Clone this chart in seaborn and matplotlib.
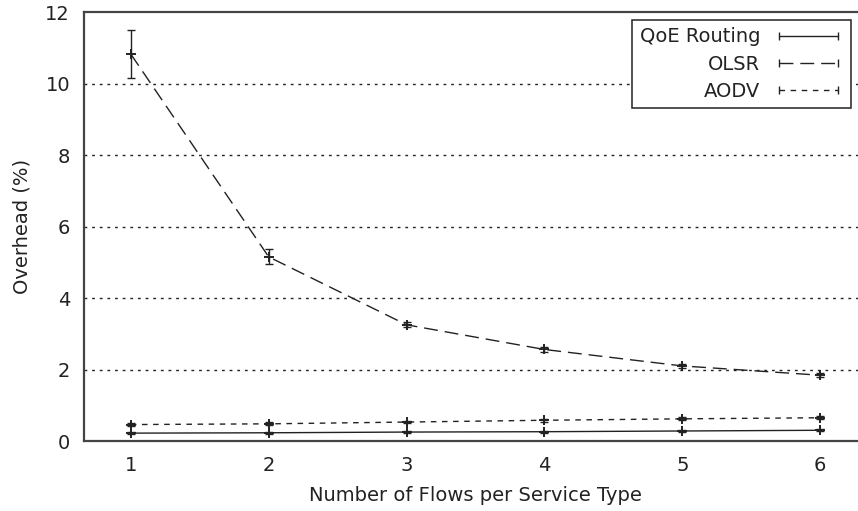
import numpy as np
import pandas as pd
import seaborn as sns
import matplotlib
matplotlib.use("Agg")
import matplotlib.pyplot as plt
from matplotlib.lines import Line2D

# Overhead measurements per number of flows per service type
flows = [1, 2, 3, 4, 5, 6]
protocols = ["QoE Routing", "OLSR", "AODV"]
qoe_mean = [0.22, 0.23, 0.25, 0.26, 0.28, 0.30]
qoe_err = [0.03, 0.03, 0.03, 0.03, 0.03, 0.03]
olsr_mean = [10.82, 5.15, 3.25, 2.56, 2.10, 1.84]
olsr_err = [0.67, 0.21, 0.07, 0.08, 0.05, 0.05]
aodv_mean = [0.46, 0.48, 0.53, 0.58, 0.62, 0.65]
aodv_err = [0.04, 0.04, 0.04, 0.04, 0.04, 0.04]

y_ticks = [0, 2, 4, 6, 8, 10, 12]
x_label = "Number of Flows per Service Type"
y_label = "Overhead (%)"

means = {"QoE Routing": qoe_mean, "OLSR": olsr_mean, "AODV": aodv_mean}
errs = {"QoE Routing": qoe_err, "OLSR": olsr_err, "AODV": aodv_err}

df = pd.DataFrame({
    "flows": flows * 3,
    "overhead": qoe_mean + olsr_mean + aodv_mean,
    "err": qoe_err + olsr_err + aodv_err,
    "protocol": [p for p in protocols for _ in flows],
})

sns.set_theme(style="white")
plt.rcParams["font.family"] = ["DejaVu Sans"]
fs = 14

ink = "#222222"
dash_styles = {"QoE Routing": "", "OLSR": (10, 5), "AODV": (4, 4)}
ls_styles = {"QoE Routing": "-", "OLSR": (0, (10, 5)), "AODV": (0, (4, 4))}

fig = plt.figure(figsize=(8.58, 5.11), dpi=100)
ax = fig.add_axes([84 / 858, 70 / 511, (867 - 84) / 858, (441 - 12) / 511])

sns.lineplot(data=df, x="flows", y="overhead", style="protocol",
             dashes=dash_styles, color=ink, linewidth=1.0,
             legend=False, ax=ax, sort=False)

for p in protocols:
    ax.errorbar(flows, means[p], yerr=errs[p], fmt="none", ecolor=ink,
                elinewidth=1.0, capsize=2.8, capthick=1.0, zorder=3)
    ax.plot(flows, means[p], linestyle="none", marker="+", markersize=7,
            markeredgewidth=1.4, color=ink, zorder=4)

ax.set_xlim(0.66, 6.34)
ax.set_ylim(0, 12)
ax.set_xticks(flows)
ax.set_yticks(y_ticks)
ax.tick_params(axis="both", direction="in", length=5, width=1.0,
               colors=ink, labelsize=fs, labelcolor=ink, pad=10)
ax.tick_params(axis="x", pad=11)

for y in y_ticks[1:-1]:
    ax.axhline(y, color=ink, linestyle=(0, (2, 3.5)), linewidth=1.0, zorder=1)

for side in ["left", "bottom", "top", "right"]:
    ax.spines[side].set_color("#444444")
    ax.spines[side].set_linewidth(1.6)

ax.set_xlabel(x_label, fontsize=fs, color=ink, labelpad=8)
ax.set_ylabel(y_label, fontsize=fs, color=ink, labelpad=10)

handles = [Line2D([], [], color=ink, linewidth=1.0, linestyle=ls_styles[p],
                  marker="|", markersize=6, markeredgewidth=1.0)
           for p in protocols]
leg = fig.legend(handles, protocols, loc="upper right",
                 bbox_to_anchor=(851 / 858, 1 - 20 / 511), borderaxespad=0,
                 markerfirst=False, numpoints=2, handlelength=3.6,
                 handletextpad=0.7, labelspacing=0.42, fancybox=False,
                 framealpha=1, edgecolor="#333333", fontsize=fs,
                 borderpad=0.38)
leg.get_frame().set_linewidth(1.2)
for t in leg.get_texts():
    t.set_color(ink)

fig.savefig("out.png", dpi=100)
